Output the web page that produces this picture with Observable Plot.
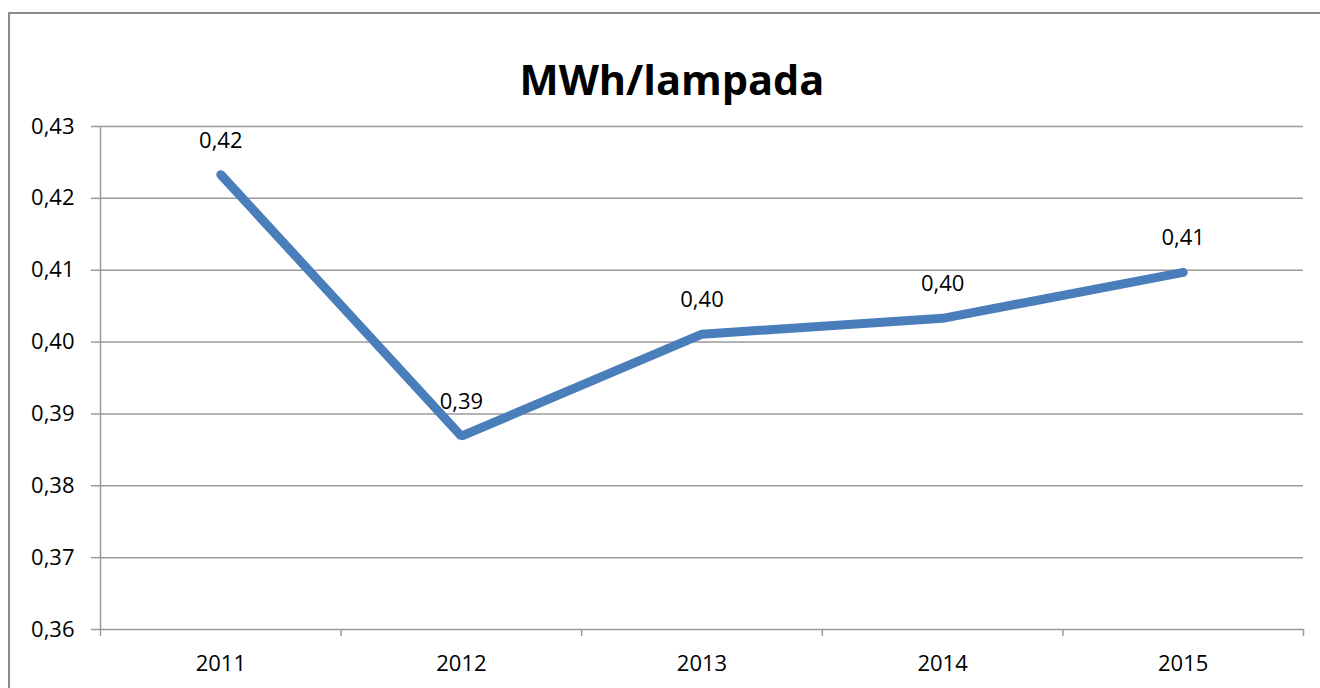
<!DOCTYPE html>
<html>
<head>
<meta charset="utf-8">
<script src="https://cdn.jsdelivr.net/npm/d3@7"></script>
<script src="https://cdn.jsdelivr.net/npm/@observablehq/plot@0.6"></script>
<style>
  html, body { margin: 0; padding: 0; background: #fff; overflow: hidden; }
  #wrap { position: relative; width: 1320px; height: 688px; }
  #frame { position: absolute; left: 8px; top: 12px; width: 1330px; height: 700px; border: 2px solid #8c8c8c; box-sizing: border-box; pointer-events: none; }
  #chart { position: absolute; left: 0; top: 0; }
</style>
</head>
<body>
<div id="wrap">
  <div id="chart"></div>
  <div id="frame"></div>
</div>
<script>
const years = [2011, 2012, 2013, 2014, 2015];
const values = [0.4233, 0.3869, 0.4011, 0.4033, 0.4097];
const yTicks = [0.36, 0.37, 0.38, 0.39, 0.40, 0.41, 0.42, 0.43];
const xBounds = [2010.5, 2011.5, 2012.5, 2013.5, 2014.5, 2015.5];
const title = "MWh/lampada";

const data = years.map((y, i) => ({year: y, value: values[i]}));
const fmt = d => d.toFixed(2).replace(".", ",");
const font = "'Open Sans', sans-serif";
const grid = "#9a9a9a";

const chart = Plot.plot({
  width: 1320,
  height: 688,
  marginLeft: 100,
  marginRight: 17,
  marginTop: 126,
  marginBottom: 59,
  style: {fontFamily: font, fontSize: "22px", color: "#000", background: "transparent"},
  x: {type: "linear", domain: [2010.5, 2015.5]},
  y: {domain: [0.36, 0.43]},
  marks: [
    Plot.ruleY(yTicks, {stroke: grid, strokeWidth: 1.5}),
    Plot.ruleX([2010.5], {stroke: grid, strokeWidth: 1.5}),
    Plot.axisY({ticks: yTicks, tickFormat: fmt, tickSize: 9, tickPadding: 17, stroke: grid, strokeWidth: 1.5, strokeOpacity: 1, fill: "#000", label: null, fontSize: 22}),
    Plot.axisX({ticks: years, tickFormat: d => String(d), tickSize: 0, tickPadding: 26, label: null, fill: "#000", fontSize: 22}),
    Plot.axisX({ticks: xBounds, tickFormat: () => "", tickSize: 7, stroke: grid, strokeWidth: 1.5, strokeOpacity: 1, label: null}),
    Plot.line(data, {x: "year", y: "value", stroke: "#4a7ebb", strokeWidth: 9, strokeLinecap: "round", strokeLinejoin: "miter"}),
    Plot.text(data, {x: "year", y: "value", text: d => fmt(d.value), dy: -34, fill: "#000", fontSize: 22}),
    Plot.text([title], {frameAnchor: "top", dx: -30, dy: -61, text: d => d, fontSize: 41.5, fontWeight: "bold", fill: "#000"})
  ]
});
document.getElementById("chart").appendChild(chart);
</script>
</body>
</html>
